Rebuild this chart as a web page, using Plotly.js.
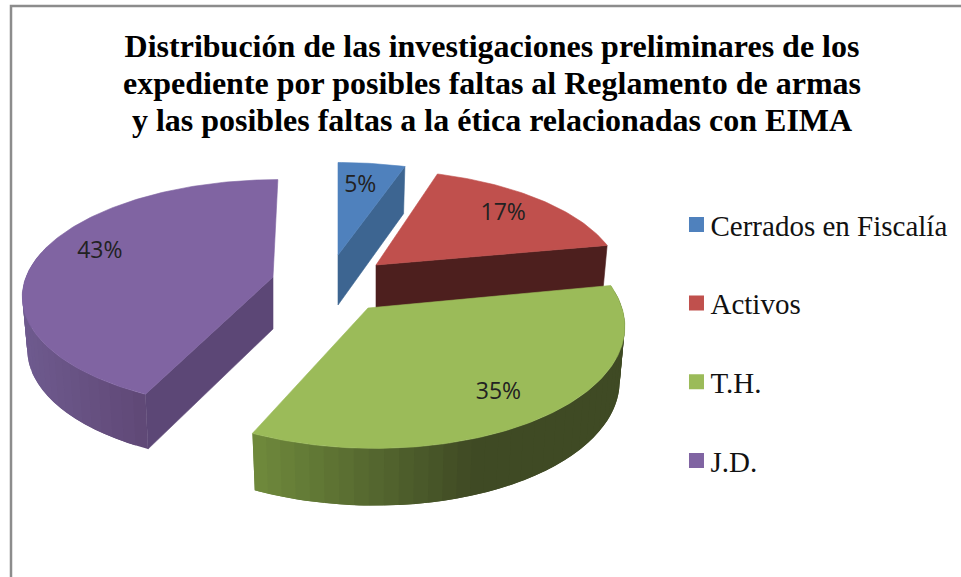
<!DOCTYPE html>
<html lang="es">
<head>
<meta charset="utf-8">
<script src="https://cdn.plot.ly/plotly-3.0.1.min.js"></script>
<style>html,body{margin:0;padding:0;background:#fff}#chart{width:961px;height:577px}</style>
</head>
<body>
<div id="chart"></div>
<script>
// ---- Data ----
const categories = ['Cerrados en Fiscalía', 'Activos', 'T.H.', 'J.D.'];
const values = [5, 17, 35, 43];
const chartTitle = 'Distribución de las investigaciones preliminares de los<br>expediente por posibles faltas al Reglamento de armas<br>y las posibles faltas a la ética relacionadas con EIMA';

// ---- Colours ----
const topColors = ['#4f81bd', '#c0504d', '#9bbb59', '#8064a2'];
const wallColors = ['#3d6591', '#4d1f1e', null, '#5c4776'];
const rimStops = [
  null,
  null,
  [[253, [111, 138, 60]], [473, [63, 74, 36]], [625, [63, 74, 36]]],
  [[25, [110, 90, 142]], [150, [95, 71, 117]]]
];

// ---- 3-D look of each exploded slice (centre, radii, perspective, shear, depth) ----
const view = [
  {cx: 338, cy: 255, rx: 242, ry: 104, k: 0.124, sh: 0,     depth: 50, wall: 'end',   lf: 0.75, ldx: -3, ldy: 0},
  {cx: 376, cy: 265, rx: 242, ry: 107, k: 0.124, sh: 0.06,  depth: 50, wall: 'end',   lf: 0.77, ldx: 1,  ldy: 0},
  {cx: 368, cy: 308, rx: 254, ry: 123, k: 0.124, sh: 0.05,  depth: 54, wall: null,    lf: 0.75, ldx: -3, ldy: 4},
  {cx: 273, cy: 277, rx: 247, ry: 112, k: 0.15,  sh: -0.05, depth: 52, wall: 'start', lf: 0.75, ldx: 1,  ldy: -7}
];
const BOTTOM_SHRINK = 0.98, DEPTH_PERSP = 0.06, RAD = Math.PI / 180;

function project(v, deg, f) {
  const s = Math.sin(deg * RAD), c = -Math.cos(deg * RAD);
  const d = 1 - v.k * c;
  const y = f * v.ry * c / d;
  const x = f * v.rx * s / d + v.sh * y;
  return {x: v.cx + x, y: v.cy + y, c: c};
}
function lower(v, p) {
  return {x: v.cx + (p.x - v.cx) * BOTTOM_SHRINK, y: p.y + v.depth * (1 + DEPTH_PERSP * p.c)};
}
function rimColor(stops, x) {
  let a = stops[0], b = stops[stops.length - 1];
  for (let i = 0; i < stops.length - 1; i++) {
    if (x >= stops[i][0] && x <= stops[i + 1][0]) { a = stops[i]; b = stops[i + 1]; break; }
  }
  const t = Math.max(0, Math.min(1, (x - a[0]) / ((b[0] - a[0]) || 1)));
  const m = a[1].map((q, i) => Math.round(q + (b[1][i] - q) * t));
  return 'rgb(' + m.join(',') + ')';
}
function poly(pts, color, group, lineWidth) {
  return {
    type: 'scatter', mode: 'lines', x: pts.map(p => p.x), y: pts.map(p => p.y),
    fill: 'toself', fillcolor: color, line: {color: color, width: lineWidth},
    hoverinfo: 'skip', showlegend: false, legendgroup: group
  };
}

const total = values.reduce((a, b) => a + b, 0);
const traces = [];
const labelX = [], labelY = [], labelText = [];
let cum = 0;
values.forEach((val, i) => {
  const v = view[i];
  const a0 = cum / total * 360, a1 = (cum + val) / total * 360;
  cum += val;
  const group = categories[i];
  const apex = {x: v.cx, y: v.cy, c: 0};
  const STEP = 3;

  // outer rim with banded shading; bands overlap the next one so no seam shows
  if (rimStops[i]) {
    for (let a = a0; a < a1; a += STEP) {
      const mid = project(v, a + STEP / 2, 1);
      if (mid.c < -0.25) continue;           // back of the slice is never seen
      const b = Math.min(a + STEP * 2, a1);
      const pts = [];
      for (let t = a; t < b; t += 1) pts.push(project(v, t, 1));
      pts.push(project(v, b, 1));
      const low = pts.map(p => lower(v, p)).reverse();
      traces.push(poly(pts.concat(low, [pts[0]]), rimColor(rimStops[i], mid.x), group, 0));
    }
  }
  // flat cut wall
  if (v.wall) {
    const e = project(v, v.wall === 'end' ? a1 : a0, 1);
    traces.push(poly([apex, e, lower(v, e), lower(v, apex), apex], wallColors[i], group, 0.6));
  }
  // top face
  const arc = [apex];
  for (let a = a0; a < a1; a += 1) arc.push(project(v, a, 1));
  arc.push(project(v, a1, 1), apex);
  traces.push(poly(arc, topColors[i], group, 0.6));

  const m = project(v, (a0 + a1) / 2, v.lf);
  labelX.push(m.x + v.ldx); labelY.push(m.y + v.ldy); labelText.push(val + '%');
});

// percentage labels
traces.push({
  type: 'scatter', mode: 'text', x: labelX, y: labelY, text: labelText,
  textposition: 'middle center',
  textfont: {family: '"Open Sans", "Liberation Sans", sans-serif', size: 23, color: '#222'},
  hoverinfo: 'skip', showlegend: false
});

// legend entries
categories.forEach((name, i) => {
  traces.push({
    type: 'scatter', mode: 'markers', x: [-100], y: [-100], name: name,
    legendgroup: name, showlegend: true, hoverinfo: 'skip',
    marker: {symbol: 'square', size: 15, color: topColors[i]}
  });
});

const layout = {
  width: 961, height: 577,
  margin: {l: 0, r: 0, t: 0, b: 0},
  paper_bgcolor: '#fff', plot_bgcolor: '#fff',
  title: {
    text: chartTitle, x: 0.512, xanchor: 'center', y: 0.902, yanchor: 'top',
    font: {family: '"Liberation Serif", serif', size: 32, color: '#000', weight: 'bold'}
  },
  xaxis: {range: [0, 961], visible: false, fixedrange: true},
  yaxis: {range: [577, 0], visible: false, fixedrange: true},
  showlegend: true,
  legend: {
    x: 0.6977, xanchor: 'left', y: 0.655, yanchor: 'top',
    font: {family: '"Liberation Serif", serif', size: 29, color: '#111'},
    tracegroupgap: 38, itemclick: false, itemdoubleclick: false, bgcolor: 'rgba(0,0,0,0)'
  },
  shapes: [{
    type: 'rect', xref: 'x', yref: 'y', x0: 11, y0: 6, x1: 990, y1: 600,
    line: {color: '#8c8c8c', width: 2.5}, fillcolor: 'rgba(0,0,0,0)', layer: 'above'
  }]
};
Plotly.newPlot('chart', traces, layout, {displayModeBar: false, responsive: false}).then(() => {
  // tighter title leading and legend swatches closer to their labels, as in the reference
  document.querySelectorAll('.gtitle tspan.line').forEach((t, i) => {
    if (i > 0) t.setAttribute('dy', (37 * i) + 'px');
  });
  document.querySelectorAll('.legend .legendpoints').forEach(g => {
    g.setAttribute('transform', 'translate(6,0)');
  });
});
</script>
</body>
</html>
